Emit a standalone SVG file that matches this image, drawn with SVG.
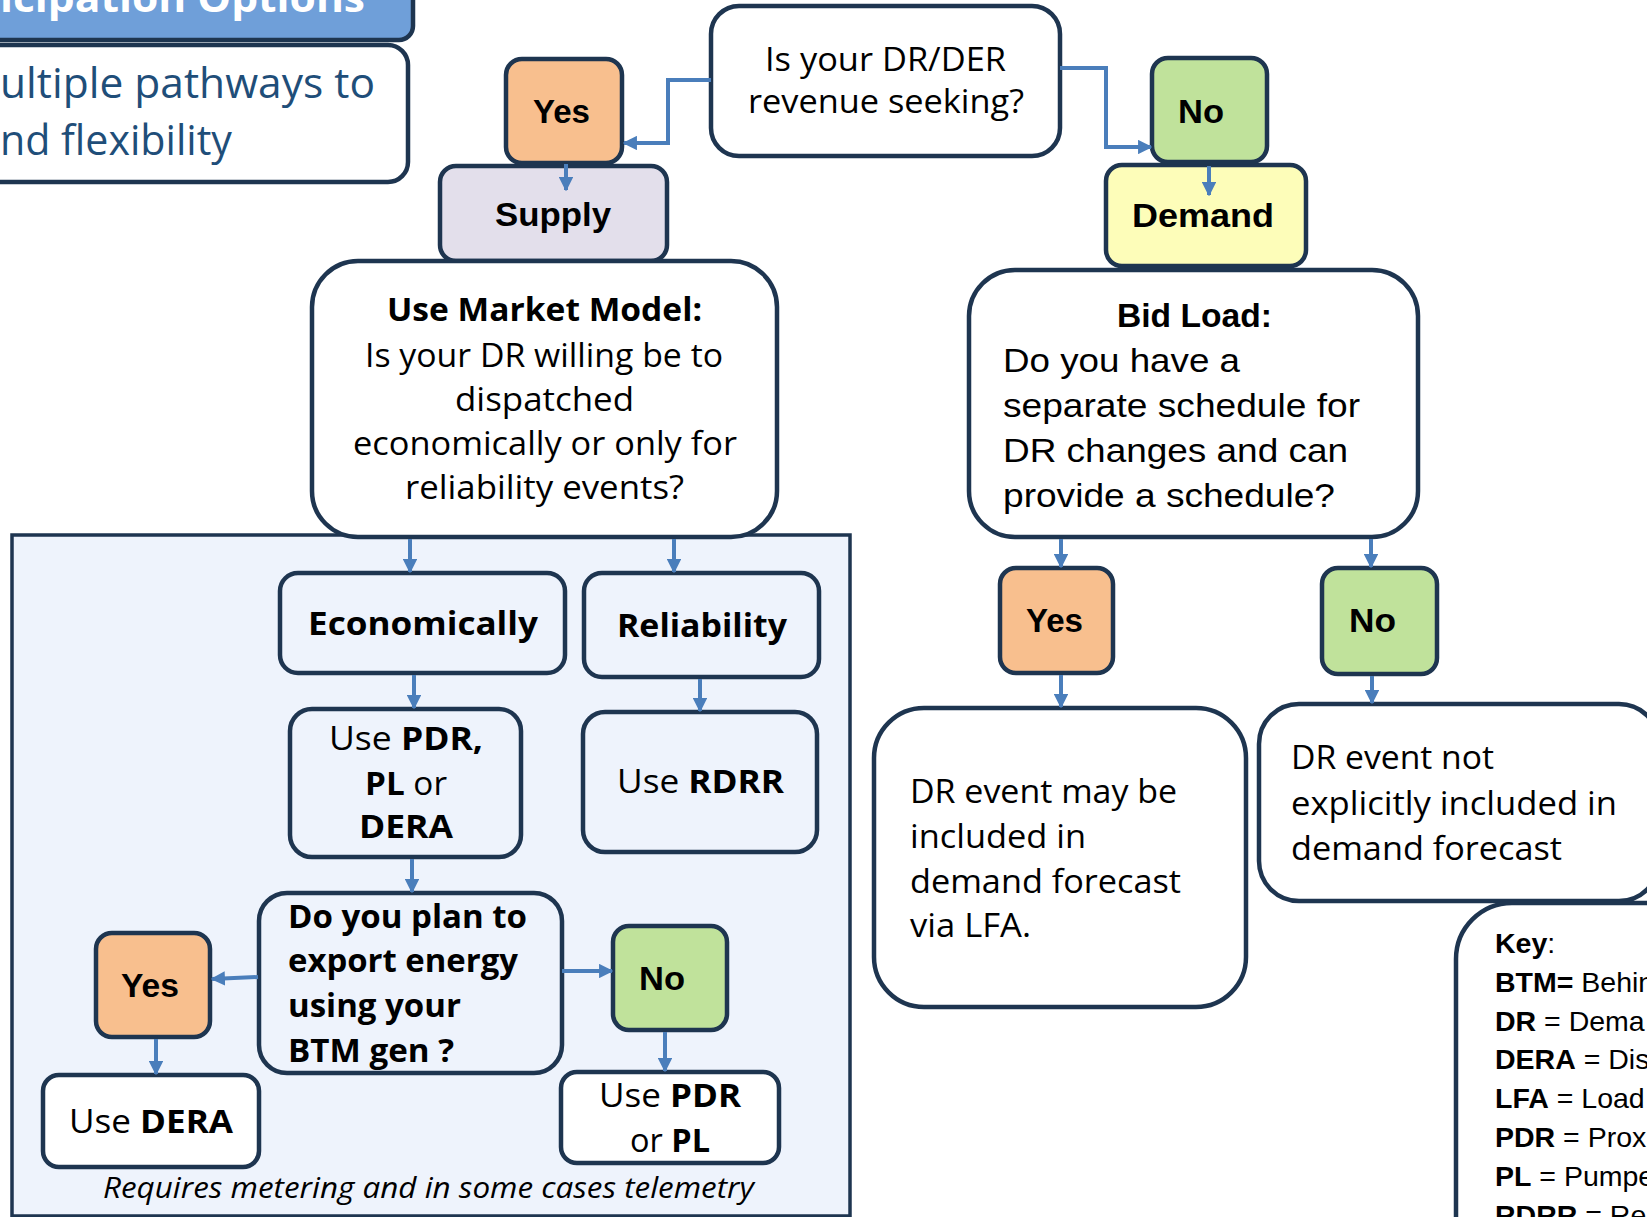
<svg xmlns="http://www.w3.org/2000/svg" width="1647" height="1217" viewBox="0 0 1647 1217">
<style>
.box{stroke:#1e3550;stroke-width:4.5}
.w{fill:#ffffff}
.peach{fill:#f8bf8e}
.green{fill:#c0e29b}
.lav{fill:#e3dfeb}
.yel{fill:#fdfdb9}
.lb{fill:#eef3fc}
.t{font-family:"Open Sans","Liberation Sans",Arial,sans-serif;font-size:32px;fill:#000}
.a{font-family:"Liberation Sans",Arial,sans-serif;font-size:34px;fill:#000}
.k{font-family:"Liberation Sans",Arial,sans-serif;font-size:28.5px;fill:#000}
.b{font-weight:bold}
.conn{fill:none;stroke:#4a7ebb;stroke-width:4;marker-end:url(#ah)}
</style>
<defs>
<marker id="ah" viewBox="0 0 10 10" refX="9" refY="5" markerWidth="3.6" markerHeight="3.6" orient="auto">
<path d="M0,0 L10,5 L0,10 z" fill="#4a7ebb"/>
</marker>
</defs>
<rect x="0" y="0" width="1647" height="1217" fill="#ffffff"/>

<g id="title">
<rect x="-20" y="-20" width="433" height="60" rx="14" fill="#6f9fd9" class="box"/>
<text x="0" y="12" class="t b" style="font-size:40px;fill:#ffffff" textLength="365" lengthAdjust="spacingAndGlyphs">icipation Options</text>
</g>
<g id="subtitle">
<rect x="-30" y="45" width="438" height="137" rx="20" class="box w"/>
<text x="0" y="98" class="t" style="font-size:42px;fill:#1f4e79" textLength="375" lengthAdjust="spacingAndGlyphs">ultiple pathways to</text>
<text x="0" y="155" class="t" style="font-size:42px;fill:#1f4e79" textLength="232" lengthAdjust="spacingAndGlyphs">nd flexibility</text>
</g>

<g id="region">
<rect x="12" y="535" width="838" height="681" class="lb" stroke="#1e3550" stroke-width="3.5"/>
<text x="103" y="1198" class="t" style="font-size:29px;font-style:italic" textLength="651" lengthAdjust="spacingAndGlyphs">Requires metering and in some cases telemetry</text>
</g>

<g id="supply">
<rect x="440" y="166" width="227" height="95" rx="16" class="box lav"/>
<text x="495" y="226" class="a b" textLength="116" lengthAdjust="spacingAndGlyphs">Supply</text>
</g>
<g id="yes1">
<rect x="506" y="59" width="116" height="104" rx="16" class="box peach"/>
<text x="533" y="123" class="a b" textLength="57" lengthAdjust="spacingAndGlyphs">Yes</text>
</g>
<g id="q1">
<rect x="711" y="6" width="349" height="150" rx="28" class="box w"/>
<text x="765" y="71" class="t" textLength="241" lengthAdjust="spacingAndGlyphs">Is your DR/DER</text>
<text x="748" y="113" class="t" textLength="276" lengthAdjust="spacingAndGlyphs">revenue seeking?</text>
</g>
<g id="demand">
<rect x="1106" y="165" width="200" height="101" rx="16" class="box yel"/>
<text x="1132" y="227" class="a b" textLength="142" lengthAdjust="spacingAndGlyphs">Demand</text>
</g>
<g id="no1">
<rect x="1152" y="58" width="115" height="104" rx="16" class="box green"/>
<text x="1178" y="123" class="a b" textLength="46" lengthAdjust="spacingAndGlyphs">No</text>
</g>

<g id="market">
<rect x="312" y="261" width="465" height="276" rx="46" class="box w"/>
<text x="387" y="321" class="t b" style="font-size:33px" textLength="315" lengthAdjust="spacingAndGlyphs">Use Market Model:</text>
<text x="365" y="367" class="t" textLength="358" lengthAdjust="spacingAndGlyphs">Is your DR willing be to</text>
<text x="455" y="411" class="t" textLength="179" lengthAdjust="spacingAndGlyphs">dispatched</text>
<text x="353" y="455" class="t" textLength="384" lengthAdjust="spacingAndGlyphs">economically or only for</text>
<text x="405" y="499" class="t" textLength="279" lengthAdjust="spacingAndGlyphs">reliability events?</text>
</g>
<g id="bid">
<rect x="969" y="270" width="449" height="267" rx="46" class="box w"/>
<text x="1117" y="327" class="a b" textLength="155" lengthAdjust="spacingAndGlyphs">Bid Load:</text>
<text x="1003" y="372" class="a" textLength="237" lengthAdjust="spacingAndGlyphs">Do you have a</text>
<text x="1003" y="417" class="a" textLength="357" lengthAdjust="spacingAndGlyphs">separate schedule for</text>
<text x="1003" y="462" class="a" textLength="345" lengthAdjust="spacingAndGlyphs">DR changes and can</text>
<text x="1003" y="507" class="a" textLength="332" lengthAdjust="spacingAndGlyphs">provide a schedule?</text>
</g>

<g id="econ">
<rect x="280" y="573" width="285" height="100" rx="18" class="box lb"/>
<text x="308" y="635" class="t b" style="font-size:33px" textLength="230" lengthAdjust="spacingAndGlyphs">Economically</text>
</g>
<g id="rel">
<rect x="584" y="573" width="235" height="104" rx="18" class="box lb"/>
<text x="617" y="637" class="t b" style="font-size:33px" textLength="170" lengthAdjust="spacingAndGlyphs">Reliability</text>
</g>
<g id="pdr">
<rect x="290" y="709" width="231" height="148" rx="22" class="box lb"/>
<text x="329" y="750" class="t" textLength="154" lengthAdjust="spacingAndGlyphs">Use <tspan class="b">PDR,</tspan></text>
<text x="365" y="795" class="t" textLength="82" lengthAdjust="spacingAndGlyphs"><tspan class="b">PL</tspan> or</text>
<text x="359" y="838" class="t b" textLength="94" lengthAdjust="spacingAndGlyphs">DERA</text>
</g>
<g id="rdrr">
<rect x="583" y="712" width="234" height="140" rx="22" class="box lb"/>
<text x="617" y="793" class="t" textLength="167" lengthAdjust="spacingAndGlyphs">Use <tspan class="b">RDRR</tspan></text>
</g>
<g id="export">
<rect x="259" y="893" width="303" height="180" rx="28" class="box lb"/>
<text x="288" y="928" class="t b" style="font-size:33px" textLength="239" lengthAdjust="spacingAndGlyphs">Do you plan to</text>
<text x="288" y="972" class="t b" style="font-size:33px" textLength="230" lengthAdjust="spacingAndGlyphs">export energy</text>
<text x="288" y="1017" class="t b" style="font-size:33px" textLength="173" lengthAdjust="spacingAndGlyphs">using your</text>
<text x="288" y="1062" class="t b" style="font-size:33px" textLength="166" lengthAdjust="spacingAndGlyphs">BTM gen ?</text>
</g>
<g id="yes2">
<rect x="96" y="933" width="114" height="104" rx="16" class="box peach"/>
<text x="121" y="997" class="a b" textLength="58" lengthAdjust="spacingAndGlyphs">Yes</text>
</g>
<g id="no2">
<rect x="613" y="926" width="114" height="104" rx="16" class="box green"/>
<text x="639" y="990" class="a b" textLength="46" lengthAdjust="spacingAndGlyphs">No</text>
</g>
<g id="dera">
<rect x="43" y="1075" width="216" height="92" rx="16" class="box w"/>
<text x="69" y="1133" class="t" textLength="164" lengthAdjust="spacingAndGlyphs">Use <tspan class="b">DERA</tspan></text>
</g>
<g id="pdrpl">
<rect x="561" y="1072" width="218" height="91" rx="16" class="box w"/>
<text x="599" y="1107" class="t" textLength="142" lengthAdjust="spacingAndGlyphs">Use <tspan class="b">PDR</tspan></text>
<text x="630" y="1152" class="t" textLength="80" lengthAdjust="spacingAndGlyphs">or <tspan class="b">PL</tspan></text>
</g>

<g id="yes3">
<rect x="1000" y="568" width="113" height="105" rx="16" class="box peach"/>
<text x="1026" y="632" class="a b" textLength="57" lengthAdjust="spacingAndGlyphs">Yes</text>
</g>
<g id="no3">
<rect x="1322" y="568" width="115" height="106" rx="16" class="box green"/>
<text x="1349" y="632" class="a b" textLength="47" lengthAdjust="spacingAndGlyphs">No</text>
</g>
<g id="may">
<rect x="874" y="708" width="372" height="299" rx="50" class="box w"/>
<text x="910" y="803" class="t" textLength="267" lengthAdjust="spacingAndGlyphs">DR event may be</text>
<text x="910" y="848" class="t" textLength="176" lengthAdjust="spacingAndGlyphs">included in</text>
<text x="910" y="893" class="t" textLength="271" lengthAdjust="spacingAndGlyphs">demand forecast</text>
<text x="910" y="937" class="t" textLength="121" lengthAdjust="spacingAndGlyphs">via LFA.</text>
</g>
<g id="not">
<rect x="1259" y="704" width="400" height="197" rx="40" class="box w"/>
<text x="1291" y="769" class="t" textLength="203" lengthAdjust="spacingAndGlyphs">DR event not</text>
<text x="1291" y="815" class="t" textLength="326" lengthAdjust="spacingAndGlyphs">explicitly included in</text>
<text x="1291" y="860" class="t" textLength="271" lengthAdjust="spacingAndGlyphs">demand forecast</text>
</g>
<g id="key">
<rect x="1456" y="903" width="260" height="400" rx="56" class="box w"/>
<text x="1495" y="953" class="k"><tspan class="b">Key</tspan>:</text>
<text x="1495" y="992" class="k"><tspan class="b">BTM=</tspan> Behin</text>
<text x="1495" y="1031" class="k"><tspan class="b">DR</tspan> = Dema</text>
<text x="1495" y="1069" class="k"><tspan class="b">DERA</tspan> = Dis</text>
<text x="1495" y="1108" class="k"><tspan class="b">LFA</tspan> = Load</text>
<text x="1495" y="1147" class="k"><tspan class="b">PDR</tspan> = Prox</text>
<text x="1495" y="1186" class="k"><tspan class="b">PL</tspan> = Pumpe</text>
<text x="1495" y="1225" class="k"><tspan class="b">RDRR</tspan> = Rel</text>
</g>

<g id="connectors">
<path class="conn" d="M711,80 H668 V143 H624"/>
<path class="conn" d="M1060,68 H1106 V147 H1151"/>
<path class="conn" d="M566,164 V190"/>
<path class="conn" d="M1209,166 V195"/>
<path class="conn" d="M410,539 V572"/>
<path class="conn" d="M674,539 V572"/>
<path class="conn" d="M1061,539 V567"/>
<path class="conn" d="M1371,539 V567"/>
<path class="conn" d="M414,675 V708"/>
<path class="conn" d="M700,679 V711"/>
<path class="conn" d="M412,859 V892"/>
<path class="conn" d="M258,977 L212,979"/>
<path class="conn" d="M562,971 H612"/>
<path class="conn" d="M156,1039 V1074"/>
<path class="conn" d="M665,1032 V1071"/>
<path class="conn" d="M1061,675 V707"/>
<path class="conn" d="M1372,676 V703"/>
</g>
</svg>
